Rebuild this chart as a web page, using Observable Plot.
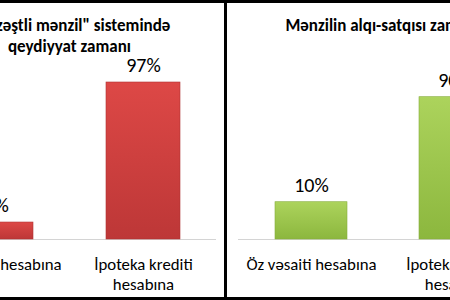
<!DOCTYPE html>
<html>
<head>
<meta charset="utf-8">
<script src="https://cdn.jsdelivr.net/npm/d3@7"></script>
<script src="https://cdn.jsdelivr.net/npm/@observablehq/plot@0.6"></script>
<style>
  html, body { margin: 0; padding: 0; background: #fff; width: 450px; height: 300px; overflow: hidden; }
  #stage { position: relative; width: 450px; height: 300px; overflow: hidden; font-family: Carlito, Lato, sans-serif; }
  .panel { position: absolute; top: 0; }
  .border { position: absolute; top: 0; height: 300px; box-sizing: border-box; border: 3px solid #000; pointer-events: none; }
</style>
</head>
<body>
<div id="stage"></div>
<script>
// ---- data ----
const categories = ["Öz vəsaiti hesabına", "İpoteka krediti hesabına"];
const tickLabels = ["Öz vəsaiti hesabına", "İpoteka krediti\nhesabına"];
const titles = ["\"Güzəştli mənzil\" sistemində\nqeydiyyat zamanı", "Mənzilin alqı-satqısı zamanı"];
const registrationShares = [3, 97];
const purchaseShares = [10, 90];

const stage = document.getElementById("stage");

function gradientDefs(svg, id, top, bottom) {
  const ns = "http://www.w3.org/2000/svg";
  const defs = document.createElementNS(ns, "defs");
  const g = document.createElementNS(ns, "linearGradient");
  g.setAttribute("id", id);
  g.setAttribute("x1", "0"); g.setAttribute("y1", "0");
  g.setAttribute("x2", "0"); g.setAttribute("y2", "1");
  [[0, top], [1, bottom]].forEach(([o, c]) => {
    const s = document.createElementNS(ns, "stop");
    s.setAttribute("offset", o);
    s.setAttribute("stop-color", c);
    g.appendChild(s);
  });
  defs.appendChild(g);
  svg.insertBefore(defs, svg.firstChild);
}

function panel({title, values, left, width, plotWidth, yDomain, yTop, gradId, topColor, bottomColor, edge}) {
  const data = categories.map((c, i) => ({category: c, value: values[i]}));
  const chart = Plot.plot({
    width, height: 300,
    marginLeft: 12, marginRight: width - 12 - plotWidth,
    marginTop: 0, marginBottom: 61,
    style: {fontFamily: "Carlito, Lato, sans-serif", background: "transparent", color: "#000"},
    x: {domain: categories, paddingInner: 0.5, paddingOuter: 0.25, axis: null},
    y: {domain: yDomain, range: [239, yTop], axis: null},
    marks: [
      Plot.ruleY([yDomain[0]], {stroke: "#d4d4d4", strokeWidth: 1}),
      Plot.barY(data, {x: "category", y1: yDomain[0], y2: "value", fill: `url(#${gradId})`, stroke: edge, strokeWidth: 0.6}),
      Plot.text(data, {x: "category", y: "value", text: d => d.value + "%", dy: -17, fontSize: 20, fill: "#000"}),
      Plot.axisX({label: null, tickSize: 0, tickPadding: 16, fontSize: 16.8, lineHeight: 1.2, tickFormat: d => tickLabels[categories.indexOf(d)], fill: "#000"}),
      Plot.text([title], {frameAnchor: "top", text: d => d, lineAnchor: "top", dy: 15, fontSize: 17, fontWeight: "bold", lineHeight: 1.25, fill: "#000"})
    ]
  });
  gradientDefs(chart, gradId, topColor, bottomColor);
  chart.classList.add("panel");
  chart.style.left = left + "px";
  stage.appendChild(chart);
}

panel({title: titles[0], values: registrationShares, left: -90, width: 318, plotWidth: 294,
  yDomain: [-8.4, 97], yTop: 82, gradId: "redGrad", topColor: "#dd4846", bottomColor: "#bd3737", edge: "#b03434"});
panel({title: titles[1], values: purchaseShares, left: 225.75, width: 318, plotWidth: 289,
  yDomain: [-18.4, 90], yTop: 96.7, gradId: "greenGrad", topColor: "#acd35c", bottomColor: "#8cb73e", edge: "#86ad3c"});

// panel borders
[[-91, 318], [224, 318]].forEach(([l, w]) => {
  const b = document.createElement("div");
  b.className = "border";
  b.style.left = l + "px";
  b.style.width = w + "px";
  stage.appendChild(b);
});
</script>
</body>
</html>
